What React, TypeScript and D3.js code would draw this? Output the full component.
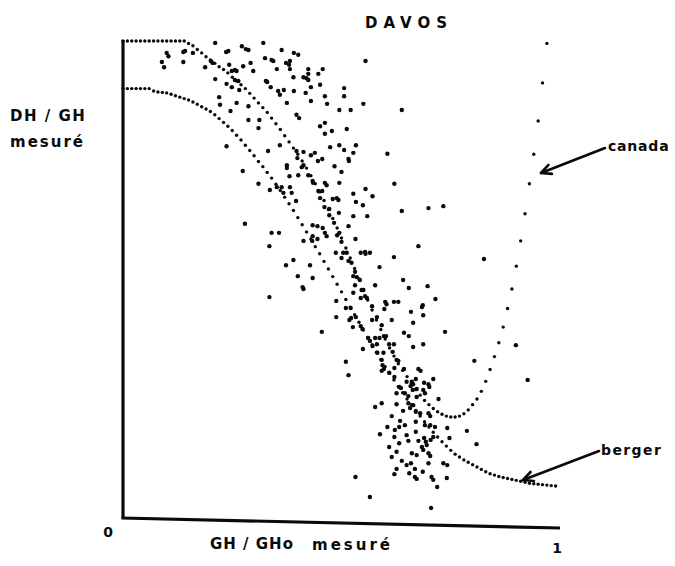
import React from 'react';
import * as d3 from 'd3';

// clearness index grid used by the two model curves (step 0.01)
const ktGrid = [
  0.00, 0.01, 0.02, 0.03, 0.04, 0.05, 0.06, 0.07, 0.08, 0.09,
  0.10, 0.11, 0.12, 0.13, 0.14, 0.15, 0.16, 0.17, 0.18, 0.19,
  0.20, 0.21, 0.22, 0.23, 0.24, 0.25, 0.26, 0.27, 0.28, 0.29,
  0.30, 0.31, 0.32, 0.33, 0.34, 0.35, 0.36, 0.37, 0.38, 0.39,
  0.40, 0.41, 0.42, 0.43, 0.44, 0.45, 0.46, 0.47, 0.48, 0.49,
  0.50, 0.51, 0.52, 0.53, 0.54, 0.55, 0.56, 0.57, 0.58, 0.59,
  0.60, 0.61, 0.62, 0.63, 0.64, 0.65, 0.66, 0.67, 0.68, 0.69,
  0.70, 0.71, 0.72, 0.73, 0.74, 0.75, 0.76, 0.77, 0.78, 0.79,
  0.80, 0.81, 0.82, 0.83, 0.84, 0.85, 0.86, 0.87, 0.88, 0.89,
  0.90, 0.91, 0.92, 0.93, 0.94, 0.95, 0.96, 0.97, 0.98, 0.99, 1.00,
];

// "canada" model DH/GH, kt = 0.00 .. 0.97
const canadaRatio = [
  1.0, 1.0, 1.0, 1.0, 1.0, 1.0, 1.0, 1.0, 1.0, 1.0,
  1.0, 1.0, 1.0, 1.0, 1.0, 0.995, 0.99, 0.982, 0.975, 0.967,
  0.96, 0.953, 0.946, 0.94, 0.933, 0.924, 0.916, 0.908, 0.9, 0.89,
  0.88, 0.87, 0.86, 0.85, 0.838, 0.826, 0.814, 0.801, 0.788, 0.775,
  0.762, 0.748, 0.733, 0.717, 0.70, 0.683, 0.665, 0.646, 0.627, 0.607,
  0.586, 0.565, 0.544, 0.522, 0.50, 0.478, 0.456, 0.435, 0.414, 0.394,
  0.374, 0.355, 0.338, 0.322, 0.308, 0.295, 0.281, 0.268, 0.256, 0.245,
  0.236, 0.228, 0.221, 0.216, 0.212, 0.21, 0.21, 0.212, 0.217, 0.225,
  0.236, 0.248, 0.264, 0.285, 0.31, 0.337, 0.366, 0.399, 0.438, 0.479,
  0.527, 0.58, 0.637, 0.70, 0.762, 0.832, 0.912, 0.995,
];

// "berger" model DH/GH, kt = 0.00 .. 0.99
const bergerRatio = [
  0.9, 0.9, 0.9, 0.9, 0.9, 0.9, 0.9, 0.895, 0.893, 0.892,
  0.891, 0.888, 0.885, 0.882, 0.879, 0.876, 0.872, 0.867, 0.862, 0.857,
  0.852, 0.845, 0.837, 0.829, 0.821, 0.812, 0.802, 0.792, 0.781, 0.77,
  0.759, 0.747, 0.736, 0.724, 0.712, 0.699, 0.686, 0.672, 0.658, 0.644,
  0.629, 0.614, 0.599, 0.584, 0.568, 0.553, 0.537, 0.521, 0.505, 0.489,
  0.473, 0.457, 0.441, 0.425, 0.409, 0.393, 0.377, 0.362, 0.346, 0.331,
  0.316, 0.302, 0.288, 0.274, 0.261, 0.248, 0.236, 0.224, 0.212, 0.2,
  0.189, 0.178, 0.168, 0.158, 0.149, 0.14, 0.132, 0.126, 0.12, 0.115,
  0.11, 0.105, 0.1, 0.095, 0.091, 0.088, 0.085, 0.083, 0.081, 0.079,
  0.077, 0.075, 0.073, 0.071, 0.07, 0.069, 0.068, 0.067, 0.066, 0.065,
];

// measured points [GH/GHo, DH/GH]
const measuredPoints: [number, number][] = [
  [0.089,0.956],[0.094,0.945],[0.100,0.975],[0.104,0.968],[0.138,0.977],[0.142,0.979],[0.138,0.956],[0.160,0.975],
  [0.211,0.996],[0.188,0.945],[0.201,0.958],[0.205,0.954],[0.211,0.920],[0.236,0.977],[0.241,0.979],[0.243,0.950],
  [0.249,0.937],[0.256,0.939],[0.260,0.937],[0.237,0.910],[0.249,0.903],[0.256,0.918],[0.264,0.916],[0.266,0.897],
  [0.272,0.989],[0.281,0.983],[0.287,0.981],[0.275,0.947],[0.292,0.954],[0.298,0.937],[0.287,0.863],[0.312,0.834],
  [0.310,0.817],[0.321,0.996],[0.325,0.964],[0.327,0.916],[0.330,0.914],[0.338,0.903],[0.340,0.960],[0.344,0.958],
  [0.352,0.941],[0.355,0.895],[0.359,0.887],[0.363,0.981],[0.368,0.897],[0.375,0.870],[0.373,0.954],[0.382,0.958],
  [0.380,0.950],[0.382,0.941],[0.391,0.975],[0.401,0.971],[0.390,0.924],[0.391,0.895],[0.397,0.845],[0.403,0.838],
  [0.413,0.924],[0.420,0.922],[0.418,0.891],[0.424,0.931],[0.397,0.769],[0.413,0.767],[0.399,0.754],[0.375,0.739],
  [0.375,0.733],[0.413,0.739],[0.409,0.735],[0.401,0.718],[0.424,0.718],[0.381,0.716],[0.310,0.700],[0.274,0.727],
  [0.237,0.779],[0.246,0.853],[0.220,0.882],[0.222,0.866],[0.260,0.870],[0.287,0.834],[0.332,0.769],[0.359,0.781],
  [0.352,0.693],[0.363,0.693],[0.382,0.693],[0.367,0.681],[0.386,0.681],[0.336,0.687],
  [0.555,0.958],[0.424,0.941],[0.424,0.918],[0.457,0.941],[0.447,0.931],[0.430,0.903],[0.451,0.908],[0.430,0.874],
  [0.462,0.884],[0.467,0.868],[0.506,0.901],[0.506,0.884],[0.495,0.855],[0.521,0.855],[0.550,0.868],[0.638,0.855],
  [0.451,0.821],[0.462,0.828],[0.462,0.805],[0.478,0.811],[0.512,0.815],[0.474,0.777],[0.495,0.781],[0.533,0.781],
  [0.506,0.771],[0.527,0.765],[0.516,0.752],[0.517,0.748],[0.605,0.763],[0.430,0.760],[0.439,0.765],[0.446,0.748],
  [0.456,0.752],[0.434,0.706],[0.435,0.702],[0.462,0.702],[0.466,0.697],[0.484,0.737],[0.500,0.725],[0.495,0.702],
  [0.447,0.685],[0.456,0.685],[0.451,0.670],[0.489,0.670],[0.480,0.668],[0.493,0.666],[0.527,0.679],[0.555,0.689],
  [0.571,0.674],[0.621,0.700],
  [0.396,0.664],[0.461,0.651],[0.472,0.647],[0.472,0.634],[0.494,0.639],[0.483,0.618],[0.516,0.611],[0.279,0.616],
  [0.340,0.597],[0.357,0.597],[0.434,0.613],[0.445,0.611],[0.457,0.607],[0.434,0.590],[0.462,0.597],[0.466,0.590],
  [0.490,0.592],[0.495,0.597],[0.413,0.580],[0.433,0.580],[0.445,0.584],[0.500,0.578],[0.335,0.569],[0.487,0.555],
  [0.504,0.555],[0.512,0.555],[0.500,0.544],[0.516,0.538],[0.390,0.540],[0.373,0.529],[0.428,0.529],[0.400,0.506],
  [0.434,0.502],[0.411,0.483],[0.413,0.479],[0.335,0.462],[0.488,0.454],[0.510,0.439],[0.488,0.420],[0.518,0.414],
  [0.455,0.389],
  [0.533,0.662],[0.549,0.655],[0.638,0.643],[0.699,0.649],[0.733,0.653],[0.527,0.632],[0.559,0.632],[0.532,0.584],
  [0.676,0.569],[0.544,0.555],[0.554,0.557],[0.555,0.553],[0.565,0.555],[0.620,0.546],[0.826,0.542],[0.587,0.525],
  [0.523,0.534],[0.531,0.515],[0.527,0.506],[0.535,0.504],[0.542,0.498],[0.641,0.498],[0.531,0.487],[0.577,0.487],
  [0.654,0.481],[0.697,0.485],[0.546,0.477],[0.550,0.477],[0.527,0.471],[0.554,0.464],[0.558,0.460],[0.544,0.460],
  [0.600,0.452],[0.603,0.447],[0.620,0.452],[0.630,0.452],[0.715,0.458],[0.570,0.443],[0.521,0.439],[0.598,0.437],
  [0.686,0.445],[0.684,0.441],[0.659,0.431],[0.687,0.424],[0.522,0.418],[0.533,0.420],[0.570,0.414],[0.581,0.420],
  [0.615,0.414],[0.664,0.408],[0.592,0.403],[0.526,0.399],[0.544,0.401],[0.548,0.395],[0.737,0.389],[0.643,0.387],
  [0.654,0.380],[0.561,0.376],[0.565,0.370],[0.577,0.376],[0.587,0.376],[0.597,0.380],[0.602,0.380],[0.571,0.359],
  [0.581,0.363],[0.609,0.363],[0.620,0.363],[0.664,0.357],[0.687,0.363],[0.549,0.353],
  [0.582,0.345],[0.596,0.345],[0.617,0.347],[0.510,0.326],[0.516,0.298],[0.592,0.330],[0.594,0.319],[0.626,0.330],
  [0.630,0.328],[0.597,0.311],[0.592,0.307],[0.609,0.303],[0.621,0.294],[0.621,0.313],[0.643,0.311],[0.676,0.311],
  [0.681,0.307],[0.670,0.290],[0.649,0.284],[0.661,0.284],[0.664,0.279],[0.632,0.273],[0.636,0.271],[0.689,0.282],
  [0.699,0.279],[0.710,0.290],[0.658,0.275],[0.663,0.267],[0.626,0.260],[0.645,0.260],[0.653,0.254],[0.672,0.269],
  [0.687,0.267],[0.691,0.260],[0.701,0.273],[0.672,0.252],[0.722,0.248],[0.653,0.239],[0.664,0.235],[0.592,0.239],
  [0.577,0.231],[0.626,0.237],[0.641,0.223],[0.657,0.229],[0.670,0.221],[0.680,0.218],[0.615,0.212],[0.699,0.218],
  [0.703,0.212],[0.670,0.200],[0.634,0.202],[0.605,0.189],[0.645,0.193],[0.691,0.193],[0.703,0.193],[0.714,0.189],
  [0.588,0.174],[0.622,0.183],[0.632,0.189],[0.670,0.179],[0.649,0.172],[0.621,0.168],[0.676,0.160],[0.689,0.166],
  [0.693,0.158],[0.695,0.151],[0.710,0.168],[0.704,0.162],[0.742,0.187],[0.787,0.181],[0.632,0.155],[0.653,0.160],
  [0.609,0.147],[0.684,0.147],[0.687,0.141],[0.699,0.134],[0.703,0.128],[0.615,0.126],[0.626,0.137],[0.661,0.134],
  [0.672,0.130],[0.638,0.118],[0.649,0.109],[0.659,0.113],[0.626,0.101],[0.621,0.090],[0.668,0.101],[0.686,0.095],
  [0.655,0.092],[0.699,0.113],[0.733,0.113],[0.742,0.109],[0.668,0.084],[0.672,0.080],[0.706,0.084],[0.710,0.078],
  [0.719,0.063],[0.741,0.082],[0.565,0.042],[0.532,0.084],[0.705,0.019],
  [0.804,0.328],[0.899,0.361],[0.926,0.288],[0.809,0.153],[0.747,0.166],
];

const chartTitle = 'DAVOS';
const yLabelLines = ['DH / GH', 'mesuré'];
const xLabelParts = ['GH / GHo', 'mesuré'];
const xTickLabels = ['0', '1'];
const curveNames = ['canada', 'berger'];

const INK = '#0a0a0a';
const FONT = "'DejaVu Sans', sans-serif";

function Arrow({ x1, y1, x2, y2 }: { x1: number; y1: number; x2: number; y2: number }) {
  const ang = Math.atan2(y2 - y1, x2 - x1);
  const L = 11;
  const a1 = ang + Math.PI - 0.45;
  const a2 = ang + Math.PI + 0.45;
  return (
    <g stroke={INK} strokeWidth={2.6} fill="none" strokeLinecap="round" strokeLinejoin="round">
      <line x1={x1} y1={y1} x2={x2} y2={y2} />
      <polyline
        points={`${x2 + L * Math.cos(a1)},${y2 + L * Math.sin(a1)} ${x2},${y2} ${x2 + L * Math.cos(a2)},${y2 + L * Math.sin(a2)}`}
      />
    </g>
  );
}

export default function App() {
  const W = 675;
  const H = 566;
  const x = d3.scaleLinear().domain([0, 1]).range([123, 560]);
  const y = d3.scaleLinear().domain([0, 1]).range([517, 41]);
  const skew = 11; // the scanned x axis drops slightly to the right

  const canadaPts = canadaRatio.map((v, i) => [ktGrid[i], v] as [number, number]);
  const bergerPts = bergerRatio.map((v, i) => [ktGrid[i], v] as [number, number]);

  const textStyle = { fontFamily: FONT, fontWeight: 700 as const, fill: INK };

  return (
    <svg
      width={W}
      height={H}
      viewBox={`0 0 ${W} ${H}`}
      style={{ position: 'absolute', left: 0, top: 0, background: '#fff' }}
    >
      <rect x={0} y={0} width={W} height={H} fill="#fff" />

      {/* axes */}
      <line x1={x(0)} y1={y(1) - 1} x2={x(0)} y2={y(0) + 2} stroke={INK} strokeWidth={3.2} />
      <line x1={x(0) - 1.5} y1={y(0) + 1} x2={x(1)} y2={y(0) + skew} stroke={INK} strokeWidth={3.2} />

      {/* model curves */}
      {canadaPts.map((d, i) => (
        <circle key={`c${i}`} cx={x(d[0])} cy={y(d[1])} r={1.7} fill={INK} />
      ))}
      {bergerPts.map((d, i) => (
        <circle key={`b${i}`} cx={x(d[0])} cy={y(d[1])} r={1.7} fill={INK} />
      ))}

      {/* measurements */}
      {measuredPoints.map((d, i) => (
        <circle key={`m${i}`} cx={x(d[0])} cy={y(d[1])} r={2.2} fill={INK} />
      ))}

      {/* title */}
      <text x={409} y={28} textAnchor="middle" fontSize={15} letterSpacing={6} style={textStyle}>
        {chartTitle}
      </text>

      {/* y label */}
      <text x={10} y={121} fontSize={15} letterSpacing={1.5} style={textStyle}>
        {yLabelLines[0]}
      </text>
      <text x={10} y={147} fontSize={15} letterSpacing={2} style={textStyle}>
        {yLabelLines[1]}
      </text>

      {/* x ticks */}
      <text x={x(0) - 15} y={y(0) + 20} textAnchor="middle" fontSize={14} style={textStyle}>
        {xTickLabels[0]}
      </text>
      <text x={x(1) - 3} y={y(0) + skew + 25} textAnchor="middle" fontSize={14} style={textStyle}>
        {xTickLabels[1]}
      </text>

      {/* x label */}
      <text x={210} y={549} fontSize={15} letterSpacing={1} style={textStyle}>
        {xLabelParts[0]}
      </text>
      <text x={312} y={550} fontSize={15} letterSpacing={3} style={textStyle}>
        {xLabelParts[1]}
      </text>

      {/* annotations */}
      <text x={608} y={151} fontSize={14} letterSpacing={0.8} style={textStyle}>
        {curveNames[0]}
      </text>
      <Arrow x1={605} y1={148} x2={541} y2={173} />
      <text x={601} y={455} fontSize={14} letterSpacing={1.4} style={textStyle}>
        {curveNames[1]}
      </text>
      <Arrow x1={599} y1={451} x2={523} y2={480} />
    </svg>
  );
}
